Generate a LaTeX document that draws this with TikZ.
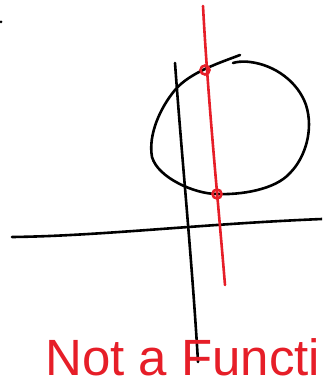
\documentclass[tikz,border=0pt]{standalone}
\usepackage{fontspec}
\setmainfont{Liberation Sans}
\definecolor{ink}{RGB}{230,30,40}
\begin{document}
\begin{tikzpicture}[x=1pt,y=-1pt,
  blackline/.style={line width=2.6pt,black,line cap=round,line join=round},
  redline/.style={line width=2.6pt,ink,line cap=round},
  reddot/.style={circle,draw=ink,line width=2.6pt,inner sep=0pt,minimum size=9pt}]
\useasboundingbox (0,0) rectangle (322,385);
\clip (0,0) rectangle (322,385);
% small mark top-left
\fill (1,22) circle (1.5pt);
% horizontal axis
\draw[blackline] (12,237) .. controls (100,236) and (200,224) .. (322,219);
% vertical axis
\draw[blackline] (175,63) .. controls (182,160) and (192,260) .. (198,362);
% circle
\draw[blackline] (240,55) .. controls (222,62) and (190,72) .. (175,90)
  .. controls (160,108) and (148,135) .. (152,157)
  .. controls (158,178) and (195,194) .. (217,194)
  .. controls (240,195) and (275,190) .. (290,173)
  .. controls (305,158) and (314,130) .. (306,105)
  .. controls (298,82) and (275,65) .. (250,62)
  .. controls (242,61) and (236,62) .. (233,63);
% red vertical line
\draw[redline] (203,6) .. controls (208,100) and (218,200) .. (225,285);
% red dots
\node[reddot] (p1) at (205,70) {};
\node[reddot] (p2) at (217,194) {};
% text
\node[anchor=base west,inner sep=0pt,text=ink,font=\fontsize{51}{51}\selectfont] (t) at (45,375) {Not a Functi};
\end{tikzpicture}
\end{document}
